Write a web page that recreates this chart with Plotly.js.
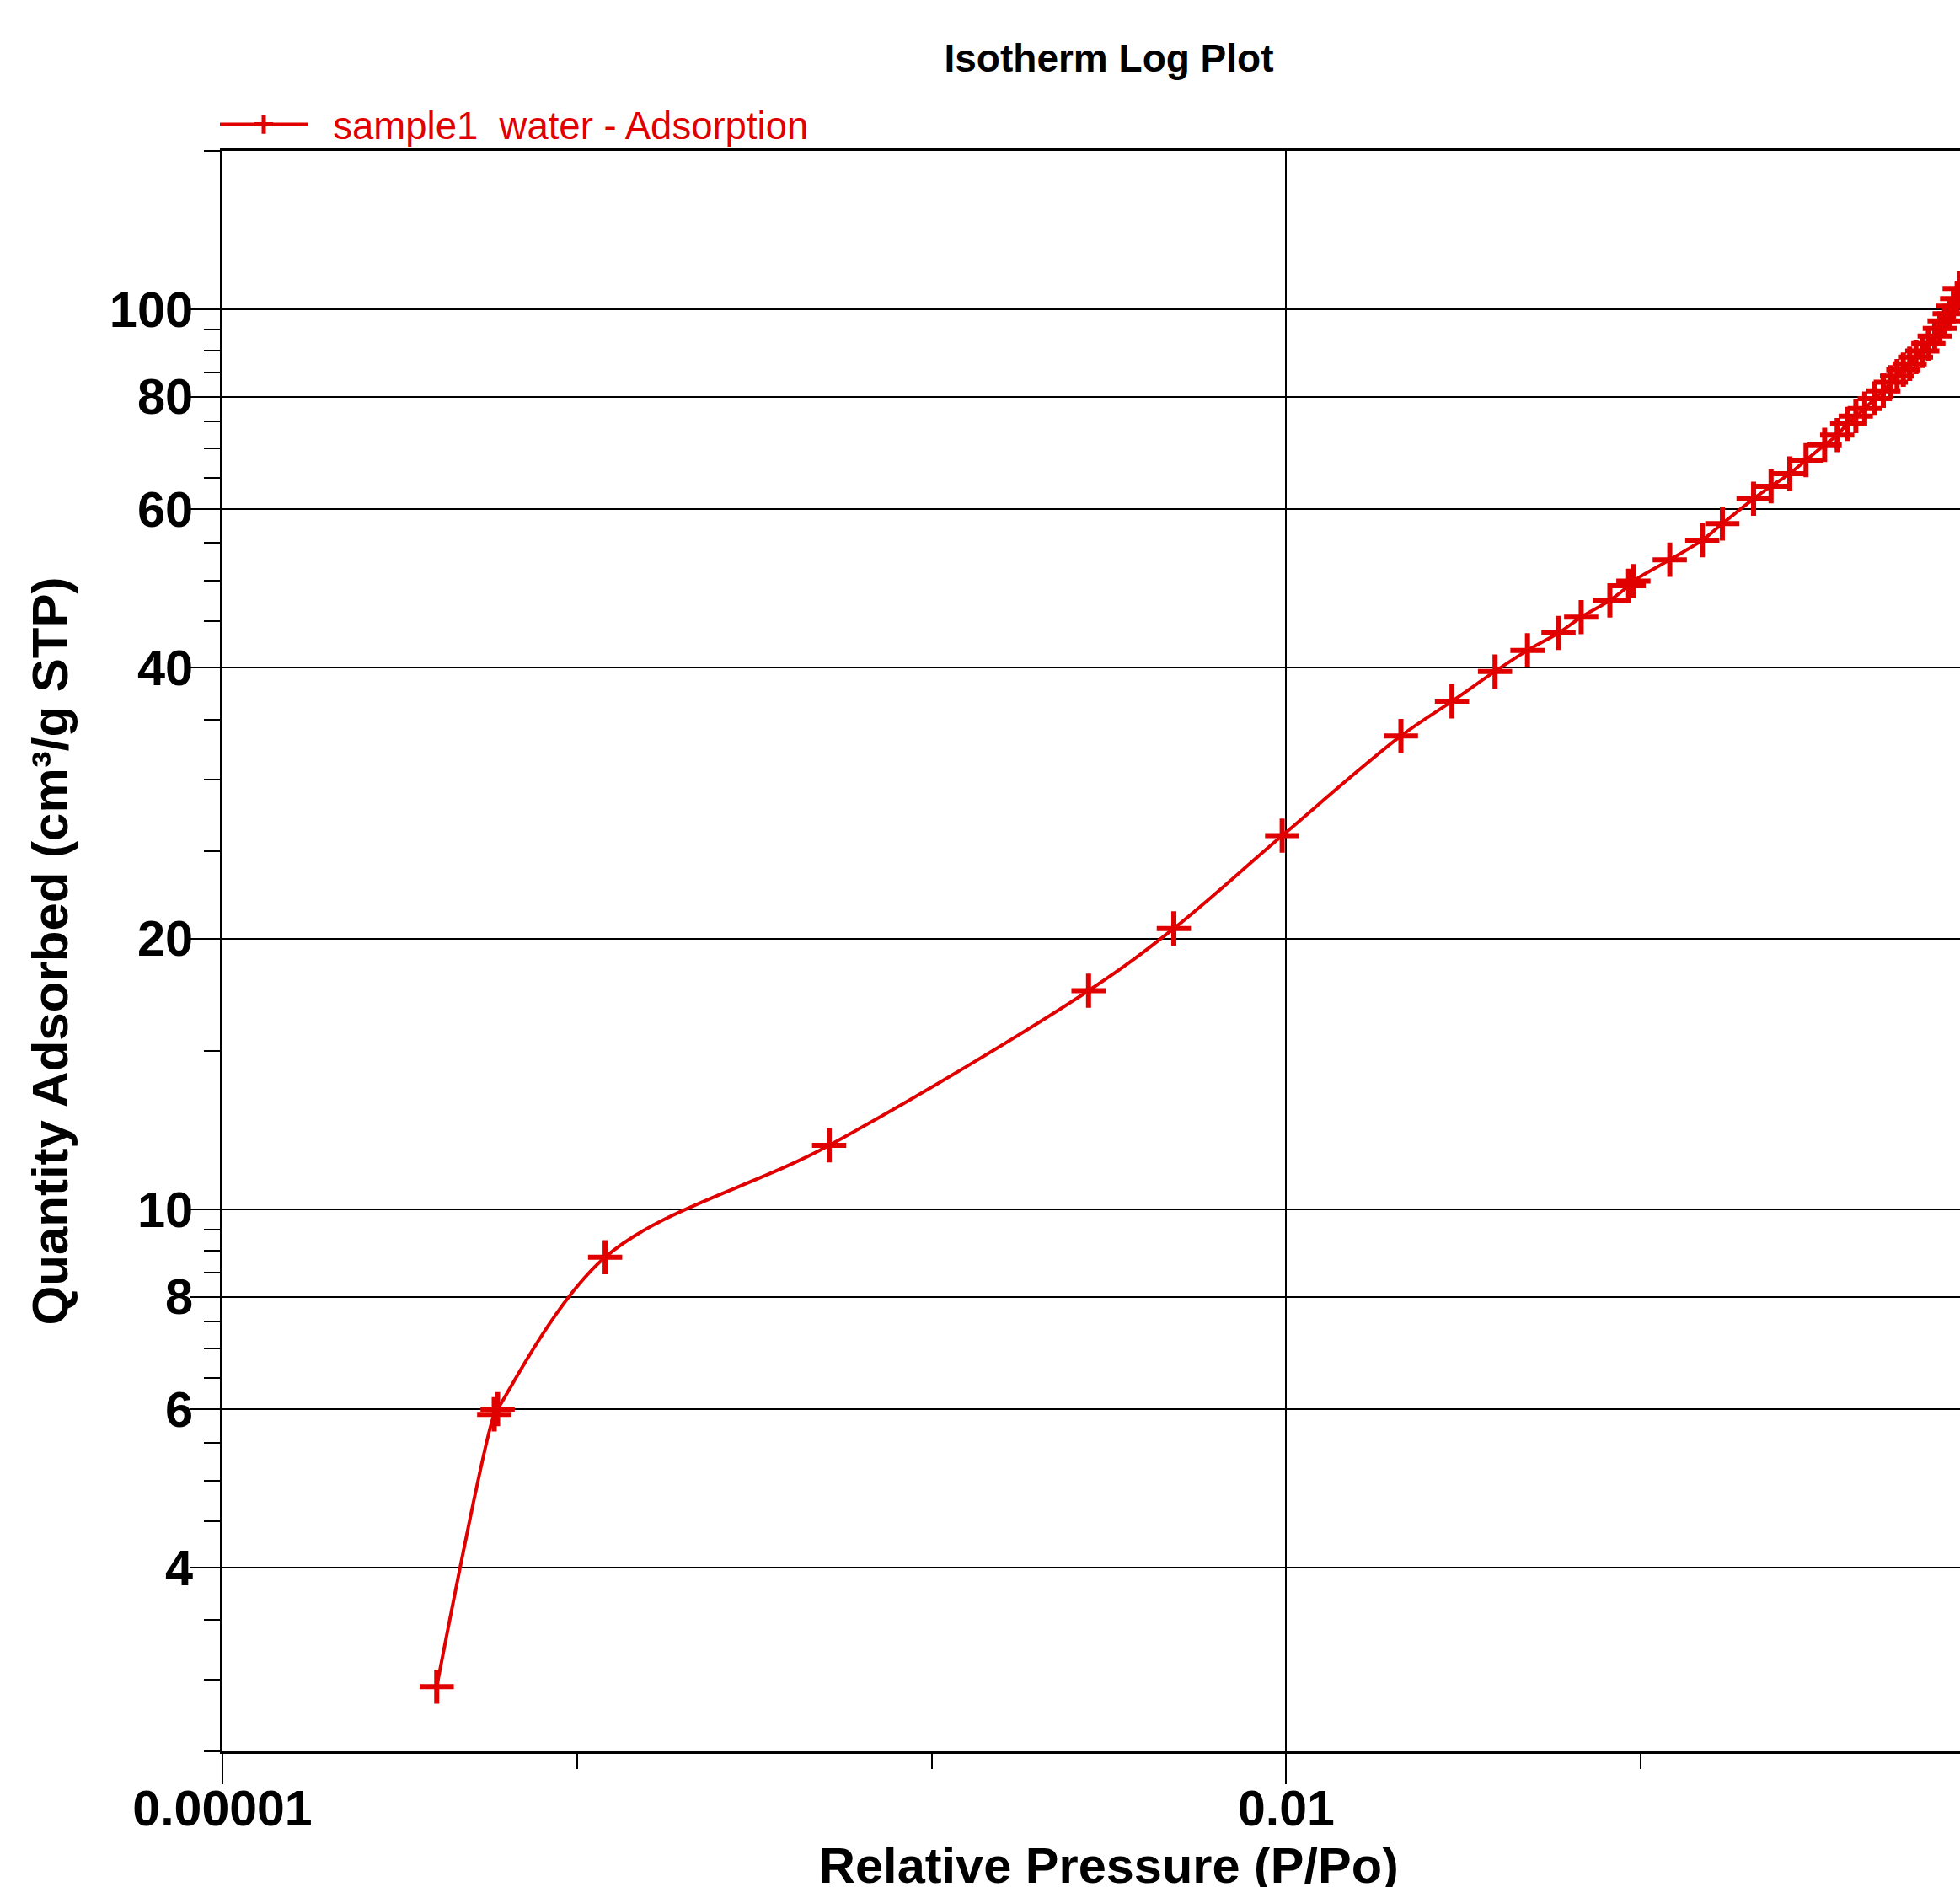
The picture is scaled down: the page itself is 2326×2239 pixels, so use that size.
<!DOCTYPE html>
<html>
<head>
<meta charset="utf-8">
<script src="https://cdn.plot.ly/plotly-3.0.1.min.js"></script>
<style>html,body{margin:0;padding:0;overflow:hidden;background:#fff}</style>
</head>
<body>
<div id="chart"></div>
<script>
// Relative pressure (P/Po) and quantity adsorbed (cm3/g STP)
const pressure = [4.02e-5, 5.84e-5, 5.97e-5, 1.20e-4, 5.14e-4, 2.77e-3, 4.82e-3, 9.74e-3,
  0.02106, 0.02934, 0.0388, 0.0479, 0.0586, 0.0679, 0.0818, 0.0924, 0.0953, 0.1207, 0.1491,
  0.1698, 0.2080, 0.2330, 0.2631, 0.2924, 0.330, 0.358, 0.382, 0.404, 0.428, 0.457, 0.483,
  0.507, 0.528, 0.550, 0.573, 0.597, 0.622, 0.647, 0.674, 0.697, 0.719, 0.743, 0.761, 0.780, 0.793];
const quantity = [2.95, 5.92, 6.00, 8.85, 11.78, 17.50, 20.52, 26.02,
  33.58, 36.69, 39.6, 41.8, 43.7, 45.5, 47.5, 49.3, 49.9, 52.7, 55.4,
  57.8, 61.6, 63.6, 65.7, 68.0, 70.7, 72.5, 74.6, 76.1, 77.6, 79.6, 81.2,
  83.0, 84.3, 85.7, 87.0, 88.5, 89.9, 91.6, 93.4, 95.2, 97.1, 98.9, 100.8, 102.8, 105.5];

const seriesName = '\u00a0\u00a0sample1 \u00a0water - Adsorption';
const xTickVals = [1e-5, 0.01];
const xTickText = ['0.00001', '0.01'];
const xMinorVals = [1e-4, 1e-3, 0.1, 1];
const yTickVals = [4, 6, 8, 10, 20, 40, 60, 80, 100];
const yTickText = ['4', '6', '8', '10', '20', '40', '60', '80', '100'];
const yMinorVals = [2.5, 3, 3.5, 4.5, 5, 5.5, 6.5, 7, 7.5, 8.5, 9, 9.5, 15, 25, 30, 35,
  45, 50, 55, 65, 70, 75, 85, 90, 95, 150];
const xRange = [1e-5, 1];
const yRange = [2.5, 150];

const FONT = 'Liberation Sans, Arial, sans-serif';
const RED = '#E00000';

const trace = {
  x: pressure,
  y: quantity,
  type: 'scatter',
  mode: 'lines+markers',
  name: seriesName,
  line: {color: RED, width: 4, shape: 'spline', smoothing: 1},
  marker: {symbol: 'cross-thin', size: 29, color: RED, line: {color: RED, width: 6}},
  cliponaxis: true
};

// the original chart is cropped at the right and bottom edges: the page is drawn
// slightly larger than the window and the overflow is hidden
const W = 2400, H = 2247;
const L = 264, R = 32, T = 179, B = 169;

const layout = {
  width: W, height: H,
  margin: {l: L, r: R, t: T, b: B, pad: 0},
  paper_bgcolor: '#fff', plot_bgcolor: '#fff',
  font: {family: FONT, color: '#000'},
  title: {
    text: 'Isotherm Log Plot',
    font: {family: FONT, size: 46, weight: 'bold', color: '#000'},
    xref: 'paper', x: 0.5, xanchor: 'center',
    yref: 'container', y: 1 - 69 / H, yanchor: 'middle'
  },
  showlegend: true,
  legend: {
    x: (256 - L) / (W - L - R), xanchor: 'left', xref: 'paper',
    y: 1 + 31 / (H - T - B), yanchor: 'middle', yref: 'paper',
    itemwidth: 104,
    font: {family: FONT, size: 45.5, color: RED},
    bgcolor: 'rgba(0,0,0,0)', borderwidth: 0
  },
  xaxis: {
    type: 'log',
    range: xRange.map(Math.log10),
    tickmode: 'array', tickvals: xTickVals, ticktext: xTickText,
    ticks: 'outside', ticklen: 36, tickwidth: 2, tickcolor: '#000',
    ticklabelstandoff: -22,
    tickfont: {family: FONT, size: 59, weight: 'bold', color: '#000'},
    showgrid: true, gridcolor: '#000', gridwidth: 2,
    showline: true, linecolor: '#000', linewidth: 3, mirror: true,
    zeroline: false, automargin: false,
    minor: {tickmode: 'array', tickvals: xMinorVals, ticks: 'outside', ticklen: 18,
            tickwidth: 2, tickcolor: '#000', showgrid: false},
    title: {text: 'Relative Pressure (P/Po)', standoff: 59,
            font: {family: FONT, size: 59.5, weight: 'bold', color: '#000'}}
  },
  yaxis: {
    type: 'log',
    range: yRange.map(Math.log10),
    tickmode: 'array', tickvals: yTickVals, ticktext: yTickText,
    ticks: 'outside', ticklen: 36, tickwidth: 2, tickcolor: '#000',
    ticklabelstandoff: -16,
    tickfont: {family: FONT, size: 59.5, weight: 'bold', color: '#000'},
    showgrid: true, gridcolor: '#000', gridwidth: 2,
    showline: true, linecolor: '#000', linewidth: 3, mirror: true,
    zeroline: false, automargin: false,
    minor: {tickmode: 'array', tickvals: yMinorVals, ticks: 'outside', ticklen: 19,
            tickwidth: 2, tickcolor: '#000', showgrid: false},
    title: {text: 'Quantity Adsorbed (cm³/g STP)', standoff: 30,
            font: {family: FONT, size: 60, weight: 'bold', color: '#000'}}
  }
};

Plotly.newPlot('chart', [trace], layout, {displayModeBar: false, staticPlot: true});
</script>
</body>
</html>
